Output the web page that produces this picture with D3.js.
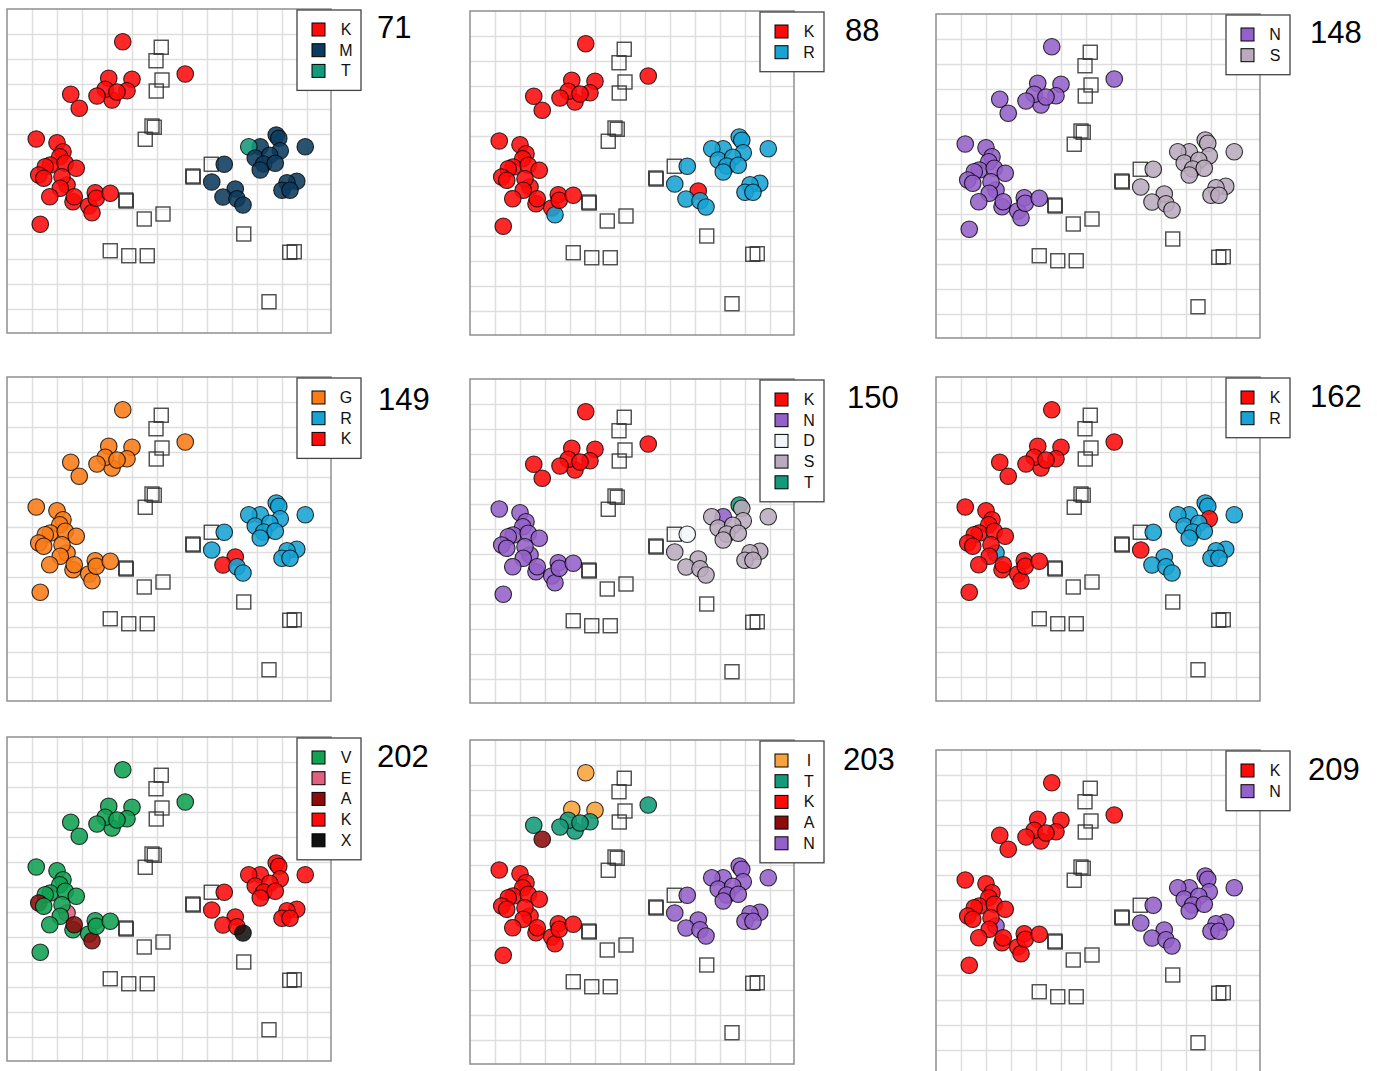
<!DOCTYPE html>
<html>
<head>
<meta charset="utf-8">
<script src="https://cdn.jsdelivr.net/npm/d3@7"></script>
<style>
  body { margin: 0; background: #fff; }
  text { font-family: "Liberation Sans", Arial, sans-serif; }
</style>
</head>
<body>
<div id="figure-holder"></div>
<script>
// point positions in grid units (x to the right, y downwards), same in every panel
const topGroup = [
    [4.63, 1.31], [7.13, 2.60], [4.07, 2.77], [5.00, 2.81], [2.55, 3.41], [2.89, 3.97],
    [4.20, 3.64], [3.93, 3.21], [4.80, 3.27], [3.60, 3.48], [4.40, 3.32]
];
const leftGroup = [
    [2.40, 7.04], [1.17, 5.20], [2.00, 5.35], [2.24, 5.71], [2.11, 5.91], [1.73, 6.24],
    [1.53, 6.31], [2.33, 6.17], [2.77, 6.37], [1.27, 6.64], [1.47, 6.77], [2.20, 6.71],
    [2.13, 7.17], [1.71, 7.51], [2.64, 7.71], [2.69, 7.51], [3.27, 7.88], [3.40, 8.15],
    [3.53, 7.35], [3.57, 7.57], [4.13, 7.37], [1.33, 8.61]
];
const rightGroup = [
    [10.13, 5.51], [9.67, 5.51], [10.77, 5.04], [10.87, 5.17], [10.93, 5.67], [11.93, 5.51],
    [9.93, 5.96], [10.51, 5.85], [10.27, 6.20], [10.73, 6.17], [10.13, 6.44], [8.69, 6.21],
    [8.19, 6.92], [9.13, 7.20], [8.64, 7.52], [9.20, 7.59], [9.44, 7.84], [11.59, 6.89],
    [11.20, 6.95], [11.00, 7.25], [11.32, 7.25]
];
// unlabelled points drawn as open squares
const squares = [
    [6.17, 1.53], [5.96, 2.07], [6.20, 2.84], [5.97, 3.28], [5.80, 4.68], [5.89, 4.73],
    [5.53, 5.21], [8.17, 6.21], [7.43, 6.68], [7.45, 6.72], [4.75, 7.64], [4.77, 7.68],
    [5.49, 8.40], [6.24, 8.20], [4.13, 9.67], [4.87, 9.87], [5.61, 9.87], [9.47, 9.00],
    [11.31, 9.73], [11.49, 9.71], [10.48, 11.71]
];

const panelNames = ['71', '88', '148', '149', '150', '162', '202', '203', '209'];

// one letter per point of each group, per panel
const topLabels = [
    'KKKKKKKKKKK', 'KKKKKKKKKKK', 'NNNNNNNNNNN',
    'GGGGGGGGGGG', 'KKKKKKKKKKK', 'KKKKKKKKKKK',
    'VVVVVVVVVVV', 'ITIITATTTTT', 'KKKKKKKKKKK'
];
const leftLabels = [
    'KKKKKKKKKKKKKKKKKKKKKK', 'KKKKKKKKKKKKKKKKKRKKKK', 'NNNNNNNNNNNNNNNNNNNNNN',
    'GGGGGGGGGGGGGGGGGGGGGG', 'NNNNNNNNNNNNNNNNNNNNNN', 'RKKKKKKKKKKKKKKKKKKKKK',
    'EVVVVVVVVAVVVVVAVAVVVV', 'KKKKKKKKKKKKKKKKKKKKKK', 'NKKKKKKKKKKKKKKKKKKKKK'
];
const rightLabels = [
    'MTMMMMMMMMMMMMMMMMMMM', 'RRRRRRRRRRRRRKRRRRRRR', 'SSSSSSSSSSSSSSSSSSSSS',
    'RRRRRRRRRRRRRKKRRRRRR', 'NSTSSSSSSSSDSSSSSSSSS', 'RRRRKRRRRRRRKRRRRRRRR',
    'KKKKKKKKKKKKKKKKXKKKK', 'NNNNNNNNNNNNNNNNNNNNN', 'NNNNNNNNNNNNNNNNNNNNN'
];
const legendKeys = [
    ['K', 'M', 'T'], ['K', 'R'], ['N', 'S'],
    ['G', 'R', 'K'], ['K', 'N', 'D', 'S', 'T'], ['K', 'R'],
    ['V', 'E', 'A', 'K', 'X'], ['I', 'T', 'K', 'A', 'N'], ['K', 'N']
];

const categories = ['K', 'M', 'T', 'R', 'N', 'S', 'G', 'D', 'V', 'E', 'A', 'X', 'I'];
const categoryColors = ['#ff0a0a', '#0c3b5e', '#139a78', '#17a3d4', '#9461ca', '#b9abbd',
    '#f97b16', '#f2f6fb', '#10a152', '#e0607f', '#8e0b0b', '#111111', '#f8a33a'];

// layout: plot top-left corner and title offset for each panel
const panelBoxes = [[7, 9], [470, 11], [936, 14], [7, 377], [470, 379], [936, 377], [7, 737], [470, 740], [936, 750]];
const titleOffsets = [[370, 29], [375, 30], [374, 29], [371, 33], [377, 29], [374, 30], [370, 30], [373, 30], [372, 30]];

const SIZE = 324, CELLS = 12.96;
const color = d3.scaleOrdinal().domain(categories).range(categoryColors);
const x = d3.scaleLinear().domain([0, CELLS]).range([0, SIZE]);
const y = d3.scaleLinear().domain([0, CELLS]).range([0, SIZE]);

const svg = d3.select('#figure-holder').append('svg')
    .attr('width', 1377)
    .attr('height', 1071);

const points = [...topGroup, ...leftGroup, ...rightGroup];

panelNames.forEach((name, i) => {
    const [left, top] = panelBoxes[i];
    const g = svg.append('g').attr('transform', `translate(${left}, ${top})`);

    // grid
    g.append('g')
        .attr('class', 'grid')
        .attr('transform', `translate(0, ${SIZE})`)
        .call(d3.axisBottom(x).tickValues(d3.range(1, 13)).tickSize(-SIZE).tickFormat(''));
    g.append('g')
        .attr('class', 'grid')
        .call(d3.axisLeft(y).tickValues(d3.range(1, 13)).tickSize(-SIZE).tickFormat(''));
    g.selectAll('.grid .domain').remove();
    g.selectAll('.grid line').attr('stroke', '#dedede').attr('stroke-width', 1.5);

    g.append('rect')
        .attr('width', SIZE)
        .attr('height', SIZE)
        .attr('fill', 'none')
        .attr('stroke', '#8f8f8f')
        .attr('stroke-width', 1.5);

    // open squares
    g.selectAll('rect.sq')
        .data(squares)
        .join('rect')
        .attr('class', 'sq')
        .attr('x', d => x(d[0]) - 7)
        .attr('y', d => y(d[1]) - 7)
        .attr('width', 14)
        .attr('height', 14)
        .attr('fill', 'none')
        .attr('stroke', '#2a2a2a')
        .attr('stroke-opacity', 0.85)
        .attr('stroke-width', 1.4);

    // labelled points
    const labels = (topLabels[i] + leftLabels[i] + rightLabels[i]).split('');
    g.selectAll('circle')
        .data(points)
        .join('circle')
        .attr('cx', d => x(d[0]))
        .attr('cy', d => y(d[1]))
        .attr('r', 8.3)
        .attr('fill', (d, j) => color(labels[j]))
        .attr('fill-opacity', 0.88)
        .attr('stroke', '#000')
        .attr('stroke-opacity', 0.8)
        .attr('stroke-width', 1.1);

    // legend
    const keys = legendKeys[i];
    const lg = g.append('g').attr('transform', 'translate(290, 1)');
    lg.append('rect')
        .attr('width', 64)
        .attr('height', 39 + 20.7 * (keys.length - 1))
        .attr('fill', '#fff')
        .attr('stroke', '#444')
        .attr('stroke-width', 1.3);
    keys.forEach((k, j) => {
        const cy = 19.5 + j * 20.7;
        lg.append('rect')
            .attr('x', 15)
            .attr('y', cy - 6.5)
            .attr('width', 13)
            .attr('height', 13)
            .attr('fill', color(k))
            .attr('stroke', '#000')
            .attr('stroke-width', 1);
        lg.append('text')
            .text(k)
            .attr('x', 49)
            .attr('y', cy + 5.5)
            .attr('text-anchor', 'middle')
            .style('font-size', '16px')
            .style('fill', '#111');
    });

    // panel number
    g.append('text')
        .text(name)
        .attr('x', titleOffsets[i][0])
        .attr('y', titleOffsets[i][1])
        .style('font-size', '31px')
        .style('fill', '#000');
});
</script>
</body>
</html>
